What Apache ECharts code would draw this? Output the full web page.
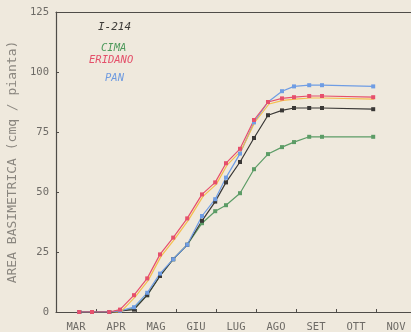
<!DOCTYPE html>
<html>
<head>
<meta charset="utf-8">
<script src="https://cdn.jsdelivr.net/npm/echarts@6/dist/echarts.min.js"></script>
<style>
  html, body { margin: 0; padding: 0; background: #efe9dd; }
  #chart { width: 411px; height: 332px; }
</style>
</head>
<body>
<div id="chart"></div>
<script>
// Month labels along the bottom axis (one slot per month, from March)
const months = ['MAR', 'APR', 'MAG', 'GIU', 'LUG', 'AGO', 'SET', 'OTT', 'NOV'];
// Y-axis ticks
const yTicks = [0, 25, 50, 75, 100, 125];
// Sampling dates, in months elapsed since 1 March
const sampleMonths = [0.58, 0.9, 1.33, 1.6, 1.95, 2.28, 2.6, 2.93, 3.28, 3.65, 3.98, 4.25, 4.6, 4.95, 5.3, 5.65, 5.95, 6.33, 6.65, 7.93];

// Basal area (cmq / pianta) per clone
const i214    = [0, 0, 0, 0.5, 1, 7, 15, 22, 28, 38, 46, 54, 62.5, 72.5, 82, 84, 85, 85, 85, 84.5];
const cima    = [0, 0, 0, 0.5, 1.5, 7, 15, 22, 28, 37, 42, 44.5, 49.5, 59.5, 65.8, 68.7, 70.8, 73, 73, 73];
const eridano = [0, 0, 0, 1, 7, 14, 24, 31, 39, 49, 54, 62, 68, 80, 87.5, 89, 89.5, 90, 90, 89.5];
const pan     = [0, 0, 0, 0.5, 2, 8, 16, 22, 28, 40, 47, 56, 66, 79, 87.5, 92, 94, 94.5, 94.5, 94];

const pairs = vals => sampleMonths.map((m, i) => [m, vals[i]]);

const mono = '"DejaVu Sans Mono", "Liberation Mono", monospace';
const axisCol = '#4f4c48';
const labelCol = '#6e6b66';

function lineSeries(name, vals, color, extra) {
  return Object.assign({
    name: name,
    type: 'line',
    xAxisIndex: 0,
    data: pairs(vals),
    symbol: 'rect',
    symbolSize: 4,
    lineStyle: { color: color, width: 1.2 },
    itemStyle: { color: color },
    animation: false
  }, extra || {});
}

const chart = echarts.init(document.getElementById('chart'), null, { renderer: 'canvas' });
chart.setOption({
  backgroundColor: '#efe9dd',
  animation: false,
  grid: { left: 56, top: 12, width: 360, height: 300, containLabel: false, outerBoundsMode: 'none' },
  xAxis: [
    {
      type: 'value', min: 0, max: 9, interval: 1, position: 'bottom',
      axisLine: { lineStyle: { color: axisCol, width: 1.2 } },
      axisTick: { show: true, inside: true, length: 3, lineStyle: { color: axisCol } },
      axisLabel: { show: false },
      splitLine: { show: false }
    },
    {
      type: 'category', data: months, boundaryGap: true, position: 'bottom',
      axisLine: { show: false }, axisTick: { show: false },
      axisLabel: { color: labelCol, fontFamily: mono, fontSize: 10.5, margin: 10, interval: 0 },
      splitLine: { show: false }
    },
    {
      type: 'value', min: 0, max: 9, position: 'top',
      axisLine: { show: true, lineStyle: { color: axisCol, width: 1.2 } },
      axisTick: { show: false }, axisLabel: { show: false }, splitLine: { show: false }
    }
  ],
  yAxis: {
    type: 'value', min: yTicks[0], max: yTicks[yTicks.length - 1], interval: 25,
    name: 'AREA BASIMETRICA (cmq / pianta)',
    nameLocation: 'middle', nameRotate: 90, nameGap: 35,
    nameTextStyle: { color: '#8a867f', fontFamily: mono, fontSize: 13 },
    axisLine: { show: true, lineStyle: { color: axisCol, width: 1.2 } },
    axisTick: { show: true, inside: true, length: 3, lineStyle: { color: axisCol } },
    axisLabel: { color: labelCol, fontFamily: mono, fontSize: 10.5, margin: 7 },
    splitLine: { show: false }
  },
  graphic: [
    { type: 'text', left: 98, top: 22, style: { text: 'I-214', fill: '#3d3b38', font: 'italic 11px ' + mono } },
    { type: 'text', left: 101, top: 43, style: { text: 'CIMA', fill: '#4f9a5c', font: 'italic 10.5px ' + mono } },
    { type: 'text', left: 89, top: 55, style: { text: 'ERIDANO', fill: '#e4506a', font: 'italic 10.5px ' + mono,
        textShadowColor: 'rgba(245,190,70,0.85)', textShadowOffsetX: 0.5, textShadowOffsetY: 1.5 } },
    { type: 'text', left: 105, top: 73, style: { text: 'PAN', fill: '#6f9be0', font: 'italic 10.5px ' + mono } }
  ],
  series: [
    lineSeries('CIMA', cima, '#5c9c66'),
    lineSeries('I-214', i214, '#3a3836'),
    lineSeries('PAN', pan, '#6f9de4'),
    lineSeries('ERIDANO', eridano, '#e6506c', {
      lineStyle: { color: '#e6506c', width: 1.2, shadowColor: 'rgba(245,185,60,0.9)', shadowOffsetX: 1, shadowOffsetY: 2 }
    })
  ]
});
</script>
</body>
</html>
